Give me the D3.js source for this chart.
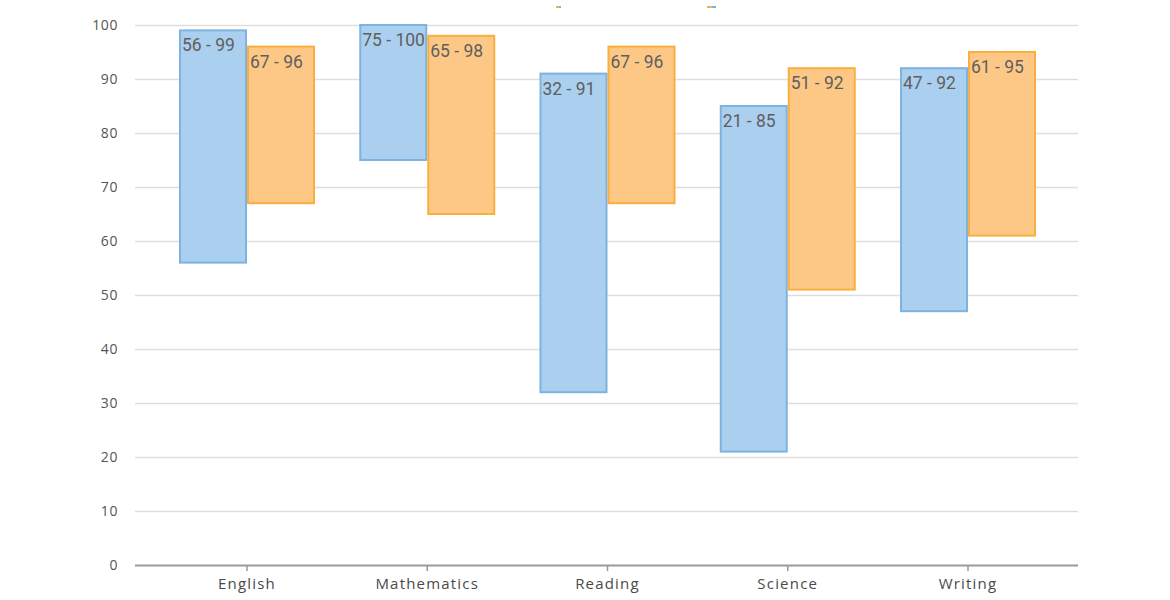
<!DOCTYPE html>
<html><head><meta charset="utf-8">
<script src="https://cdn.jsdelivr.net/npm/d3@7"></script>
<style>body{margin:0;background:#fff;}svg{display:block;}</style>
</head><body>
<svg id="c" width="1170" height="600"></svg>
<script>
const categories = ["English","Mathematics","Reading","Science","Writing"];
const seriesA_low  = [56, 75, 32, 21, 47];
const seriesA_high = [99, 100, 91, 85, 92];
const seriesB_low  = [67, 65, 67, 51, 61];
const seriesB_high = [96, 98, 96, 92, 95];
const yTicks = [0,10,20,30,40,50,60,70,80,90,100];

(function(){
const svg = d3.select("#c");
const pLeft = 135, pRight = 1078, pTop = 25, pBottom = 565;
const y = d3.scaleLinear().domain([0,100]).range([pBottom, pTop]);
const x = d3.scalePoint().domain(categories).range([247, 968]);
const barW = 68;

// grid
svg.append("g").selectAll("line").data(yTicks.filter(d=>d>0)).join("line")
  .attr("x1", pLeft).attr("x2", pRight)
  .attr("y1", d=>y(d)+0.5).attr("y2", d=>y(d)+0.5)
  .attr("stroke", "#dedede").attr("stroke-width", 1.5);

// y labels
svg.append("g").selectAll("text").data(yTicks).join("text")
  .attr("x", 118).attr("y", d=>y(d)+5)
  .attr("text-anchor","end")
  .attr("font-family","Open Sans, sans-serif").attr("font-size",14)
  .attr("letter-spacing","0.6px")
  .attr("fill","#555").text(d=>d);

const series = [
  {low: seriesA_low, high: seriesA_high, fill:"#abcfee", stroke:"#7cb3e1", off:-barW},
  {low: seriesB_low, high: seriesB_high, fill:"#fdc886", stroke:"#f9ae3e", off:0}
];
series.forEach(s=>{
  const g = svg.append("g");
  g.selectAll("rect").data(categories).join("rect")
    .attr("x",(d)=>x(d)+s.off+1)
    .attr("y",(d,i)=>y(s.high[i]))
    .attr("width", barW-2)
    .attr("height",(d,i)=>y(s.low[i])-y(s.high[i]))
    .attr("fill", s.fill).attr("stroke", s.stroke).attr("stroke-width",2);
  g.selectAll("text").data(categories).join("text")
    .attr("x",(d)=>x(d)+s.off+3)
    .attr("y",(d,i)=>y(s.high[i])+21)
    .attr("font-family","Roboto, sans-serif").attr("font-size",17.5)
    .attr("fill","#5f5f5f")
    .text((d,i)=>s.low[i]+" - "+s.high[i]);
});

// x axis
svg.append("line").attr("x1",pLeft).attr("x2",pRight)
  .attr("y1",pBottom+0.5).attr("y2",pBottom+0.5)
  .attr("stroke","#9a9a9a").attr("stroke-width",2);
svg.append("g").selectAll("line").data(categories).join("line")
  .attr("x1",d=>x(d)).attr("x2",d=>x(d))
  .attr("y1",pBottom).attr("y2",pBottom+6)
  .attr("stroke","#9a9a9a").attr("stroke-width",1.5);
svg.append("g").selectAll("text").data(categories).join("text")
  .attr("x",d=>x(d)).attr("y",589)
  .attr("text-anchor","middle")
  .attr("font-family","Open Sans, sans-serif").attr("font-size",15)
  .attr("letter-spacing","1.2px")
  .attr("fill","#4a4a4a").text(d=>d);

// cut-off legend marks at top
const legendMarks = [{x:556,w:5},{x:707,w:9}];
legendMarks.forEach(m=>{
  svg.append("rect").attr("x",m.x).attr("y",6).attr("width",m.w/2).attr("height",2).attr("fill","#f9ae3e");
  svg.append("rect").attr("x",m.x+m.w/2).attr("y",6).attr("width",m.w/2).attr("height",2).attr("fill","#7cb3e1");
});
})();
</script>
</body></html>
